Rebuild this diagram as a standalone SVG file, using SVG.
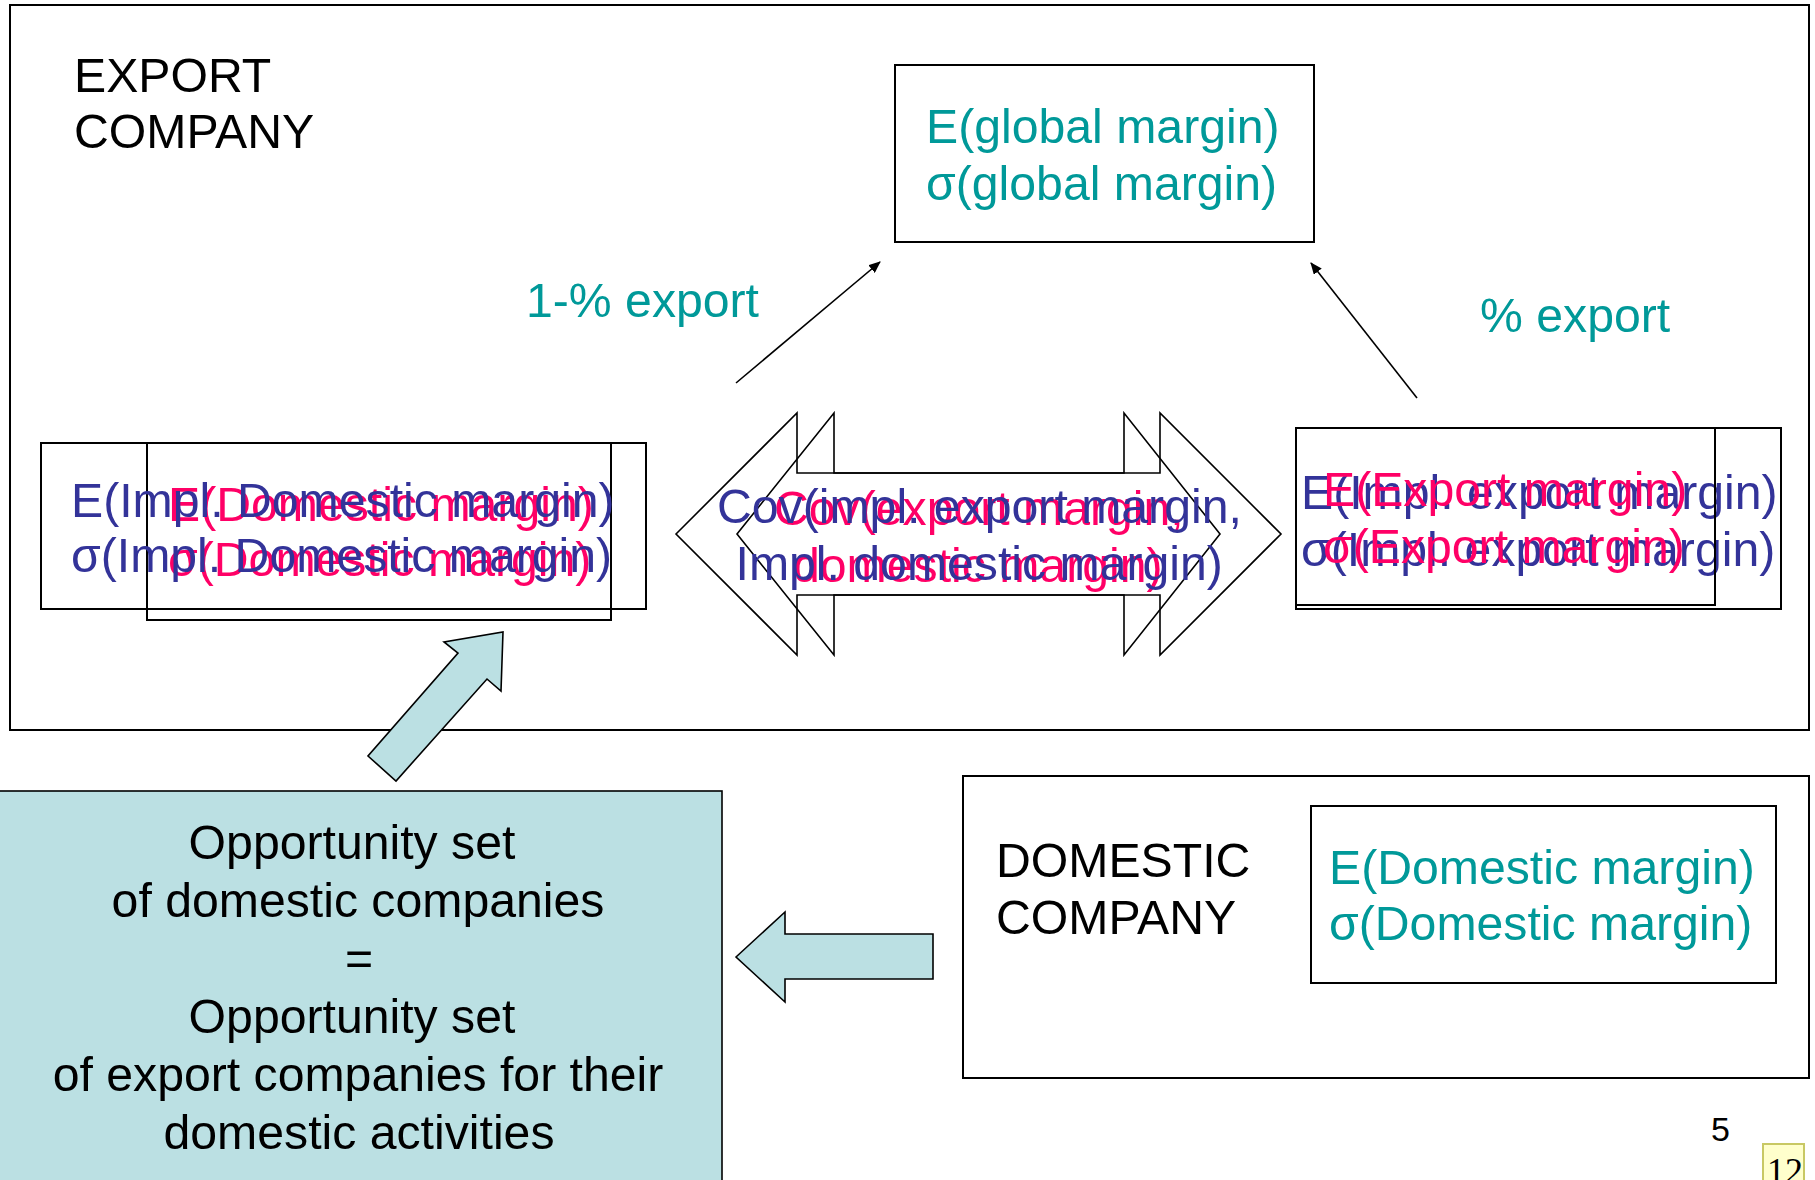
<svg xmlns="http://www.w3.org/2000/svg" width="1815" height="1180" viewBox="0 0 1815 1180">
  <style>
    text { font-family: "Liberation Sans", Arial, sans-serif; font-size: 48.2px; }
    .box { fill: none; stroke: #000; stroke-width: 2; }
    .teal { fill: #009999; }
    .blue { fill: #333399; }
    .red { fill: #FF0066; }
    .black { fill: #000; }
    .dbl { fill: none; stroke: #000; stroke-width: 1.6; stroke-linejoin: miter; }
    .block { fill: #BBE0E3; stroke: #000; stroke-width: 1.6; stroke-linejoin: miter; }
    .link { fill: none; stroke: #000; stroke-width: 1.6; marker-end: url(#head); }
  </style>
  <defs>
    <marker id="head" viewBox="0 0 12 10" refX="11" refY="5" markerWidth="12" markerHeight="10" markerUnits="userSpaceOnUse" orient="auto">
      <path d="M0,0 L12,5 L0,10 Z" fill="#000"/>
    </marker>
  </defs>

  <rect width="1815" height="1180" fill="#fff"/>

  <!-- export company frame -->
  <g id="export-company">
    <rect class="box" x="10" y="5" width="1799" height="725"/>
    <text class="black" x="74" y="92">EXPORT</text>
    <text class="black" x="74" y="148">COMPANY</text>
  </g>

  <!-- global margin -->
  <g id="global-margin">
    <rect class="box" x="895" y="65" width="419" height="177"/>
    <text class="teal" x="926" y="143">E(global margin)</text>
    <text class="teal" x="926" y="200">σ(global margin)</text>
  </g>

  <!-- domestic part of the export company (two overlaid variants) -->
  <g id="domestic-margin-export">
    <rect class="box" x="147" y="443" width="464" height="177"/>
    <text class="red" x="168" y="521">E(Domestic margin)</text>
    <text class="red" x="168" y="576">σ(Domestic margin)</text>
    <rect class="box" x="41" y="443" width="605" height="166"/>
    <text class="blue" x="71" y="517">E(Impl. Domestic margin)</text>
    <text class="blue" x="71" y="572">σ(Impl. Domestic margin)</text>
  </g>

  <!-- export part of the export company (two overlaid variants) -->
  <g id="export-margin">
    <rect class="box" x="1296" y="428" width="485" height="181"/>
    <text class="blue" x="1301" y="509">E(Impl. export margin)</text>
    <text class="blue" x="1301" y="566">σ(Impl. export margin)</text>
    <rect class="box" x="1296" y="428" width="419" height="177"/>
    <text class="red" x="1323" y="506">E(Export margin)</text>
    <text class="red" x="1323" y="563">σ(Export margin)</text>
  </g>

  <!-- covariance double arrows -->
  <g id="covariance">
    <polygon class="dbl" points="676,534 797,413 797,473 1160,473 1160,413 1281,534 1160,655 1160,595 797,595 797,655"/>
    <polygon class="dbl" points="737,534 834,413 834,473 1124,473 1124,413 1220,534 1124,655 1124,595 834,595 834,655"/>
    <text class="red" x="774" y="525">Cov(export margin,</text>
    <text class="red" x="793" y="582">domestic margin)</text>
    <text class="blue" x="717" y="523">Cov(impl. export margin,</text>
    <text class="blue" x="735.5" y="580">Impl. domestic margin)</text>
  </g>

  <!-- opportunity set -->
  <g id="opportunity-set">
    <rect class="block" x="-5" y="791" width="727" height="400"/>
    <g class="black" text-anchor="middle">
      <text x="352" y="859">Opportunity set</text>
      <text x="358" y="917">of domestic companies</text>
      <text x="359" y="975">=</text>
      <text x="352" y="1033">Opportunity set</text>
      <text x="358" y="1091">of export companies for their</text>
      <text x="359" y="1149">domestic activities</text>
    </g>
  </g>

  <!-- domestic company -->
  <g id="domestic-company">
    <rect class="box" x="963" y="776" width="846" height="302"/>
    <text class="black" x="996" y="877">DOMESTIC</text>
    <text class="black" x="996" y="934">COMPANY</text>
    <rect class="box" x="1311" y="806" width="465" height="177"/>
    <text class="teal" x="1329" y="884">E(Domestic margin)</text>
    <text class="teal" x="1329" y="940">σ(Domestic margin)</text>
  </g>

  <!-- connectors -->
  <g id="connectors">
    <line class="link" x1="736" y1="383" x2="880" y2="262"/>
    <text class="teal" x="526" y="317">1-% export</text>
    <line class="link" x1="1417" y1="398" x2="1311" y2="263"/>
    <text class="teal" x="1480" y="332">% export</text>
    <polygon class="block" points="503,632 501,691 487,679 396,781 368,756 458,653 444,642"/>
    <polygon class="block" points="736,957 785,912 785,934 933,934 933,979 785,979 785,1002"/>
  </g>

  <!-- page markers -->
  <g id="page-number">
    <text class="black" x="1711" y="1141" style="font-size:34px">5</text>
  </g>
  <g id="slide-tag">
    <rect x="1763" y="1144" width="41" height="50" fill="#FFFFCC" stroke="#C8C864" stroke-width="2"/>
    <text class="black" x="1767" y="1183" style="font-family:'Liberation Serif', 'Times New Roman', serif; font-size:36px">12</text>
  </g>
</svg>
